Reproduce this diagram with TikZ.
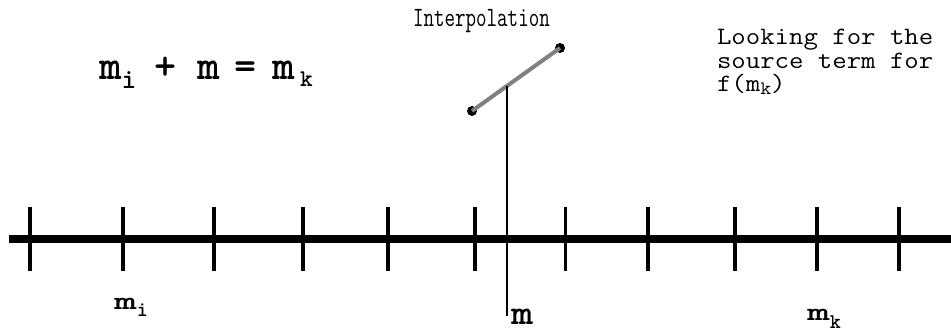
\documentclass[tikz,border=0pt]{standalone}
\newcommand{\fsz}[1]{\fontsize{#1}{#1}\selectfont}
\tikzset{
  axisline/.style={line width=8pt, line cap=butt},
  ticklink/.style={line width=4pt},
  thinlink/.style={line width=2pt},
  interp/.style={line width=4pt, draw=black!50},
  dot/.style={circle, fill=black, minimum size=10pt, inner sep=0pt},
  lbl/.style={inner sep=0pt, outer sep=0pt, font=\ttfamily},
}
\begin{document}
\begin{tikzpicture}[x=1pt, y=-1pt]
\useasboundingbox (0,0) rectangle (951,331);

% axis
\coordinate (axL) at (9,239);
\coordinate (axR) at (951,239);
\draw[axisline] (axL) -- (axR);

% ticks
\foreach \xx in {30,123,214,303,388,475,648,735,817,899}{
  \draw[ticklink] (\xx,207) -- (\xx,271);
}
\draw[line width=3pt] (565,207) -- (565,271);

% interpolation segment
\node[dot] (p1) at (472,111) {};
\node[dot] (p2) at (560,48) {};
\draw[interp] (p1.center) -- (p2.center);
\coordinate (mtop) at (507,86);
\coordinate (mbot) at (507,316);
\draw[thinlink] (mtop) -- (mbot);

% labels
\node[lbl, anchor=base west] (interplbl) at (413,27)
  {\scalebox{0.73}[1]{\fsz{28}Interpolation}};

\node[lbl, anchor=base west] (eq) at (100,80)
  {\fsz{42}\bfseries
   \makebox[22pt][c]{\scalebox{1.02}[1]{m}}%
   \makebox[14pt][c]{\raisebox{-9pt}{\fsz{28}i}}%
   \makebox[59pt][c]{+}%
   \makebox[27pt][c]{\scalebox{1.02}[1]{m}}%
   \makebox[47pt][c]{=}%
   \makebox[29pt][c]{\scalebox{1.02}[1]{m}}%
   \makebox[17pt][c]{\raisebox{-7pt}{\fsz{24}k}}};

\node[lbl, anchor=base west, align=left,
      font=\ttfamily\fontsize{25}{23.5}\selectfont] (look) at (717,92)
  {\scalebox{1.12}[1]{Looking for the}\\
   \scalebox{1.12}[1]{source term for}\\
   \scalebox{1.12}[1]{f(m\raisebox{-3pt}{\fsz{19}k})}};

\node[lbl, anchor=base west] (mi) at (114,309)
  {\bfseries\scalebox{1.7}[1]{\fsz{25.5}m}\raisebox{-7pt}{\fsz{21}i}};
\node[lbl, anchor=base west] (mm) at (511,324)
  {\bfseries\scalebox{1.2}[1]{\fsz{35}m}};
\node[lbl, anchor=base west] (mk) at (807,320)
  {\bfseries\scalebox{1.7}[1]{\fsz{25.5}m}\raisebox{-8pt}{\fsz{21}k}};
\end{tikzpicture}
\end{document}
